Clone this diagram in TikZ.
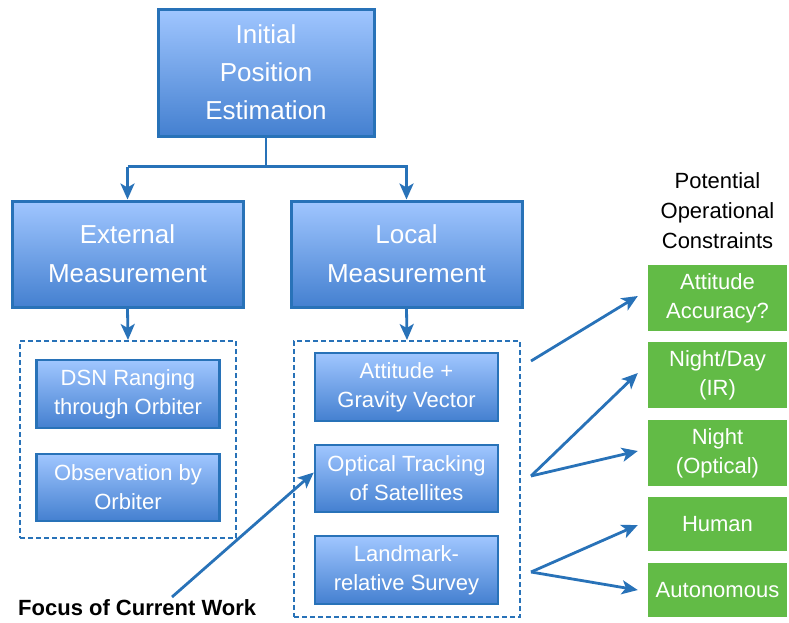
\documentclass[tikz,border=0pt]{standalone}
\usepackage{fontspec}
\setmainfont{Liberation Sans}
\usetikzlibrary{arrows.meta}
\definecolor{bordblue}{RGB}{40,114,184}
\definecolor{gtop}{RGB}{160,198,255}
\definecolor{gbot}{RGB}{68,128,208}
\definecolor{grn}{RGB}{98,187,70}
\tikzset{
  bluebox/.style={draw=bordblue, line width=3pt, top color=gtop, bottom color=gbot, text=white, align=center, inner sep=0pt},
  bigbox/.style={bluebox, font=\fontsize{26}{38}\selectfont},
  smallbox/.style={bluebox, line width=2.5pt, minimum width=183pt, font=\fontsize{22}{29}\selectfont},
  greenbox/.style={fill=grn, text=white, align=center, inner sep=0pt, minimum width=139pt, font=\fontsize{22}{29}\selectfont},
  dashbox/.style={draw=bordblue, line width=2pt, dash pattern=on 5pt off 3pt, inner sep=0pt},
  arr/.style={draw=bordblue, line width=2.8pt, -{Stealth[length=16pt,width=14pt,inset=4pt]}},
  conn/.style={draw=bordblue, line width=2.8pt},
}
\begin{document}
\begin{tikzpicture}[x=1pt,y=-1pt]
\useasboundingbox (0,0) rectangle (789,622);
% top
\node[bigbox, minimum width=216pt, minimum height=127pt] (top) at (266,72.5) {Initial\\Position\\Estimation};
\node[bigbox, minimum width=231pt, minimum height=106pt, font=\fontsize{26}{39}\selectfont] (ext) at (127.5,254) {External\\Measurement};
\node[bigbox, minimum width=231pt, minimum height=106pt, font=\fontsize{26}{39}\selectfont] (loc) at (406.5,254) {Local\\Measurement};
% dashed groups
\node[dashbox, minimum width=216pt, minimum height=197pt] (lgrp) at (128,439.5) {};
\node[dashbox, minimum width=226pt, minimum height=276pt] (rgrp) at (407,479) {};
% small boxes
\node[smallbox, minimum height=68pt] (dsn) at (128,394) {DSN Ranging\\through Orbiter};
\node[smallbox, minimum height=67pt] (obs) at (128,487.5) {Observation by\\Orbiter};
\node[smallbox, minimum height=68pt] (ag) at (406.5,387) {Attitude +\\Gravity Vector};
\node[smallbox, minimum height=67pt] (ot) at (406.5,478.5) {Optical Tracking\\of Satellites};
\node[smallbox, minimum height=68pt] (lr) at (406.5,570) {Landmark-\\relative Survey};
% green
\node[align=center, font=\fontsize{22}{30}\selectfont] (pot) at (717.5,211) {Potential\\Operational\\Constraints};
\node[greenbox, minimum height=66pt] (aa) at (717.5,298) {Attitude\\Accuracy?};
\node[greenbox, minimum height=66pt] (nd) at (717.5,375) {Night/Day\\(IR)};
\node[greenbox, minimum height=66pt] (no) at (717.5,453) {Night\\(Optical)};
\node[greenbox, minimum height=54pt] (hu) at (717.5,524) {Human};
\node[greenbox, minimum height=54pt] (au) at (717.5,590) {Autonomous};
% focus label
\node[font=\fontsize{22}{26}\bfseries\selectfont, anchor=base west, inner sep=0pt] (focus) at (18,615) {Focus of Current Work};
% connectors
\draw[conn] (top.south) -- ++(0,29) coordinate (j);
\draw[conn] (j -| ext.north) -- (j -| 408,0);
\draw[arr] (j -| ext.north) -- (ext.north);
\draw[arr] (j -| loc.north) -- (loc.north);
\draw[arr] (ext.south) -- (lgrp.north);
\draw[arr] (loc.south) -- (rgrp.north);
\coordinate (s1) at (531,361);
\coordinate (s2) at (531,476);
\coordinate (s3) at (531,572);
\coordinate (f0) at (172,597);
\draw[arr] (s1) -- ([xshift=-10pt,yshift=2pt]aa.west);
\draw[arr] (s2) -- ([xshift=-10pt,yshift=2pt]nd.west);
\draw[arr] (s2) -- ([xshift=-10pt,yshift=2pt]no.west);
\draw[arr] (s3) -- ([xshift=-10pt,yshift=-1pt]hu.west);
\draw[arr] (s3) -- ([xshift=-10pt]au.west);
\draw[arr] (f0) -- ([yshift=6pt]ot.west);
\end{tikzpicture}
\end{document}
